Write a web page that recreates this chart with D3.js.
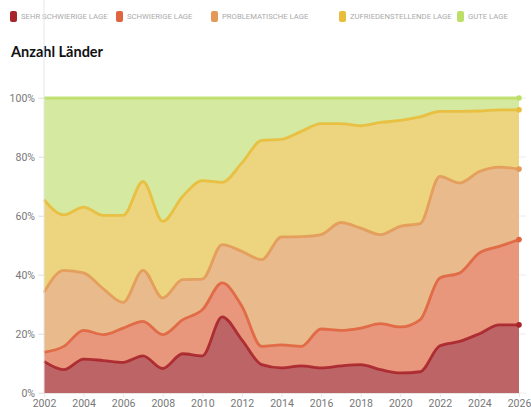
<!DOCTYPE html>
<html><head><meta charset="utf-8">
<script src="https://cdn.jsdelivr.net/npm/d3@7"></script>
<style>
body{margin:0;background:#fff;font-family:Roboto,"Noto Sans",sans-serif;}
svg{display:block}
</style></head>
<body><svg id="c" width="531" height="407"></svg>
<script>
const years = d3.range(2002, 2027);
const seriesNames = ["SEHR SCHWIERIGE LAGE","SCHWIERIGE LAGE","PROBLEMATISCHE LAGE","ZUFRIEDENSTELLENDE LAGE","GUTE LAGE"];
// cumulative upper boundary (%) of each category
const sehrSchwierig = [10.7,7.9,11.5,11,10.4,12.6,8.3,13.3,12.6,25.8,18,9.6,8.5,9.2,8.5,9.2,9.6,7.9,6.8,7.2,16,17.5,20.1,23.1,23.1];
const schwierig     = [13.8,15.8,21.2,19.8,22,24.3,19.8,24.8,28.2,37.3,29.4,15.8,16.3,15.8,21.7,21.2,22,23.5,22.4,24.8,39,40.7,47.5,49.7,52];
const problematisch = [34.1,41.6,40.7,35.3,30.7,41.6,32.2,38.4,38.6,50.3,48,45.2,52.9,53,53.7,57.8,55.9,53.7,56.5,57.4,73.4,71.2,75.1,76.6,75.9];
const zufrieden     = [65.5,60.4,63,60.2,60.2,71.7,58.2,66.6,72,71.4,78,85.6,86,88.7,91.3,91.3,90.6,91.7,92.4,93.6,95.5,95.5,95.6,96,96];
const gut           = years.map(() => 100);
const yTicks = [0,20,40,60,80,100];
const xTicks = d3.range(2002, 2027, 2);

const lineColors = ["#a8242a","#e0643f","#e39a58","#e9bd3a","#bddf68"];
const fillColors = ["#bd6466","#e8967c","#e9ba8c","#ecd57e","#d6e9a0"];
const stacks = [sehrSchwierig, schwierig, problematisch, zufrieden, gut];

const svg = d3.select("#c");
const x = d3.scaleLinear().domain([2002, 2026]).range([44, 519]);
const y = d3.scaleLinear().domain([0, 100]).range([393, 98]);

// legend
const legX = [10, 116, 211, 339, 457];
const leg = svg.append("g");
seriesNames.forEach((n, i) => {
  leg.append("rect").attr("x", legX[i]).attr("y", 11).attr("width", 7).attr("height", 11).attr("rx", 2).attr("fill", lineColors[i]);
  leg.append("text").attr("x", legX[i] + 11).attr("y", 19.3).attr("font-size", 7.7).attr("fill", "#aaa").text(n);
});
svg.append("text").attr("x", 11).attr("y", 57).attr("font-size", 14.5).attr("font-weight", 700).attr("fill", "#111")
  .attr("font-family", "Lato, 'Open Sans', sans-serif").text("Anzahl Länder");

// grid
svg.append("g").selectAll("line").data(yTicks).join("line")
  .attr("x1", 38).attr("x2", 526).attr("y1", d => y(d)).attr("y2", d => y(d))
  .attr("stroke", "#ececec").attr("stroke-width", 1);

// areas
const curve = d3.curveMonotoneX;
stacks.forEach((s, i) => {
  const lower = i === 0 ? years.map(() => 0) : stacks[i - 1];
  const area = d3.area().curve(curve).x((d, j) => x(years[j])).y0((d, j) => y(lower[j])).y1(d => y(d));
  svg.append("path").datum(s).attr("d", area).attr("fill", fillColors[i]);
});
stacks.forEach((s, i) => {
  const line = d3.line().curve(curve).x((d, j) => x(years[j])).y(d => y(d));
  svg.append("path").datum(s).attr("d", line).attr("fill", "none").attr("stroke", lineColors[i]).attr("stroke-width", 2.8).attr("stroke-opacity", 0.9);
  svg.append("circle").attr("cx", x(years[years.length - 1])).attr("cy", y(s[s.length - 1])).attr("r", 2.8).attr("fill", lineColors[i]);
});

// y axis line
svg.append("line").attr("x1", 44).attr("x2", 44).attr("y1", 0).attr("y2", 393).attr("stroke", "#e6e6e6");

// axes
const ya = svg.append("g").attr("transform", "translate(44,0)")
  .call(d3.axisLeft(y).tickValues(yTicks).tickFormat(d => d + "%").tickSize(5).tickPadding(4));
ya.select(".domain").remove();
ya.selectAll("line").attr("stroke", "#e6e6e6");
ya.selectAll("text").attr("font-size", 10.5).attr("fill", "#777").attr("font-family", "Roboto, sans-serif");

const xa = svg.append("g").attr("transform", "translate(0,393)")
  .call(d3.axisBottom(x).tickValues(xTicks).tickFormat(d3.format("d")).tickSize(4).tickPadding(3));
xa.select(".domain").attr("stroke", "#e6e6e6");
xa.selectAll("line").attr("stroke", "#e6e6e6");
xa.selectAll("text").attr("font-size", 10.5).attr("fill", "#777").attr("font-family", "Roboto, sans-serif");
</script></body></html>
